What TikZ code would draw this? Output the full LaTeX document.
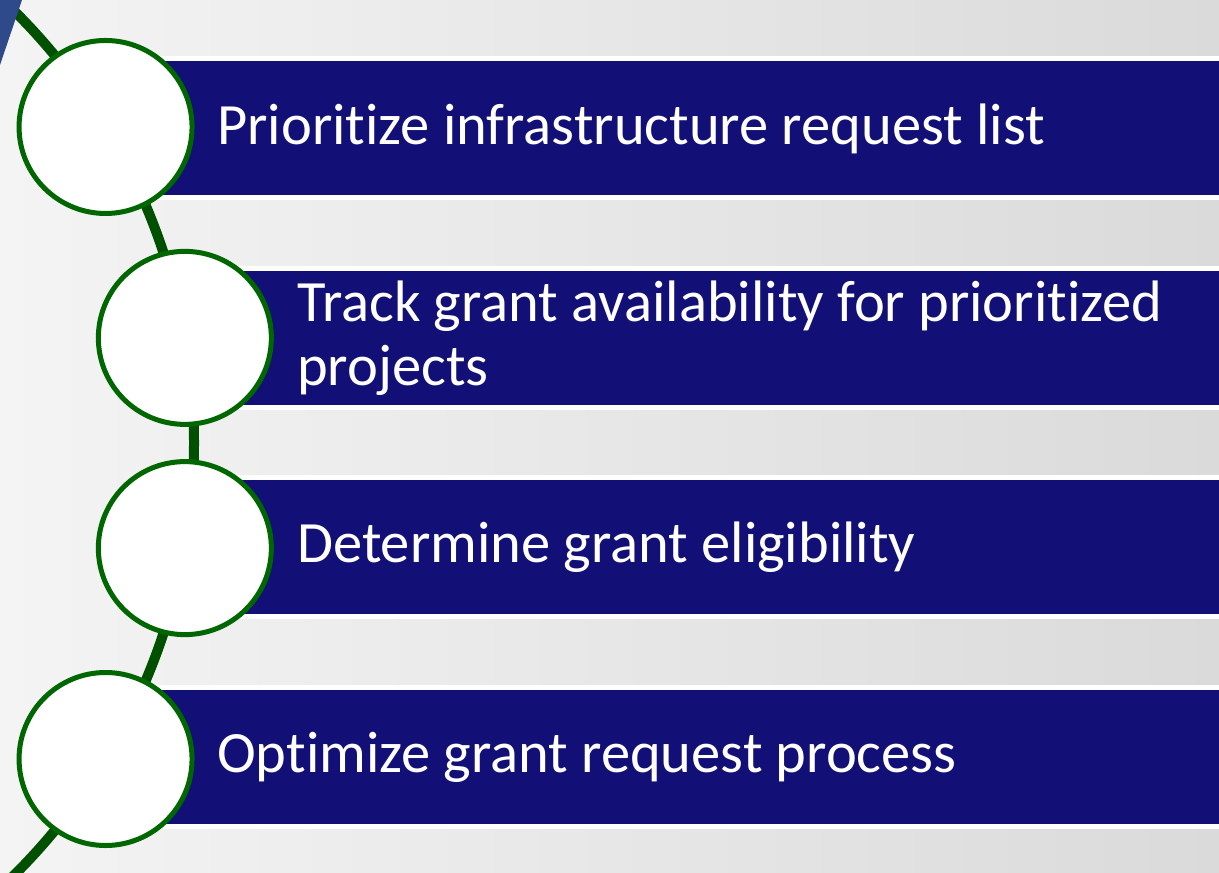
\documentclass[tikz,border=0pt]{standalone}
\usepackage{fontspec}
\setmainfont{Carlito}[Ligatures={NoCommon}]
\definecolor{barblue}{RGB}{18,16,118}
\definecolor{ringgreen}{RGB}{0,102,0}
\definecolor{linegreen}{RGB}{0,80,0}
\definecolor{sliver}{RGB}{46,74,138}
\definecolor{bgleft}{RGB}{244,244,244}
\definecolor{bgmid}{RGB}{250,250,250}
\definecolor{bgright}{RGB}{218,218,218}
\tikzset{
  ring/.style={circle, draw=ringgreen, fill=white, line width=5pt, minimum size=173pt, inner sep=0pt},
  bar/.style={rectangle, draw=white, fill=barblue, line width=5pt, minimum height=139pt, minimum width=1140pt, anchor=west, inner sep=0pt},
  label/.style={text=white, anchor=base west, inner sep=0pt, font=\fontsize{58.5}{64}\selectfont, align=left},
  arcline/.style={draw=linegreen, line width=10pt}
}
\begin{document}
\begin{tikzpicture}[x=1pt,y=1pt]
\useasboundingbox (0,0) rectangle (1219,873);
\shade[left color=bgleft, middle color=bgmid, right color=bgright] (0,0) rectangle (1219,873);
% arc through the circle centres
\coordinate (O) at (-415,430);
\draw[arcline] (O) ++(47:609) arc[start angle=47, end angle=-47, radius=609];
% bars
\node[bar] (b1) at (100,744.5) {};
\node[bar] (b2) at (180,535) {};
\node[bar] (b3) at (180,325.5) {};
\node[bar] (b4) at (100,116) {};
% circles on the arc
\path (O) ++(31.26:609) node[ring] (c1) {};
\path (O) ++(9.94:609) node[ring] (c2) {};
\path (O) ++(-9.94:609) node[ring] (c3) {};
\path (O) ++(-31.26:609) node[ring] (c4) {};
% texts
\node[label] (t1) at (217,728) {Prioritize infrastructure request list};
\node[label] (t2) at (297,487) {Track grant availability for prioritized\\projects};
\node[label] (t3) at (297,310) {Determine grant eligibility};
\node[label] (t4) at (217,100) {Optimize grant request process};
% blue sliver in the corner
\fill[sliver] (0,873) -- (22,873) -- (0,808) -- cycle;
\end{tikzpicture}
\end{document}
